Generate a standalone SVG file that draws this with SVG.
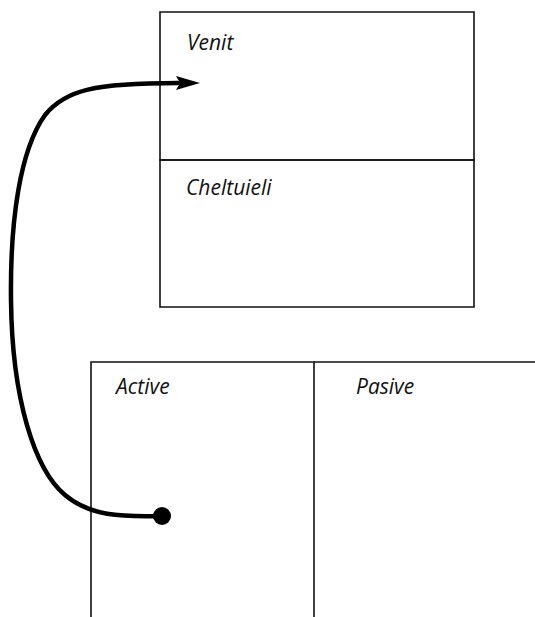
<svg xmlns="http://www.w3.org/2000/svg" width="535" height="617" viewBox="0 0 535 617">
  <style>
    .frame { fill: none; stroke: #111; stroke-width: 1.6; }
    .label { font-family: "Open Sans", "Liberation Sans", sans-serif; font-style: italic; font-size: 21px; fill: #111; }
    .flow { fill: none; stroke: #000; stroke-width: 4.5; stroke-linecap: round; }
  </style>
  <defs>
    <marker id="head" markerUnits="userSpaceOnUse" markerWidth="26" markerHeight="16" refX="2" refY="8" orient="auto" overflow="visible">
      <path d="M0,1 L24,8 L0,15 L4,8 Z" fill="#000"/>
    </marker>
  </defs>
  <rect width="535" height="617" fill="#fff"/>

  <!-- income statement block -->
  <g id="venit">
    <path class="frame" d="M160,12 H474 V160 H160 Z"/>
    <text class="label" x="187" y="50">Venit</text>
  </g>
  <g id="cheltuieli">
    <path class="frame" d="M160,160 H474 V307 H160 Z"/>
    <text class="label" x="186" y="195">Cheltuieli</text>
  </g>

  <!-- balance sheet block -->
  <g id="active">
    <path class="frame" d="M91,617 V362 H314 V617"/>
    <text class="label" x="116" y="394">Active</text>
  </g>
  <g id="pasive">
    <path class="frame" d="M314,362 H535"/>
    <text class="label" x="356" y="394">Pasive</text>
  </g>

  <!-- flow from assets to income -->
  <g id="connectors">
    <path class="flow" marker-end="url(#head)" d="M162,516 C120,517 90,516 65,495 C35,470 12,400 11,300 C10,220 20,150 45,115 C65,90 95,83 178,83"/>
    <circle cx="162" cy="516" r="9" fill="#000"/>
  </g>
</svg>
